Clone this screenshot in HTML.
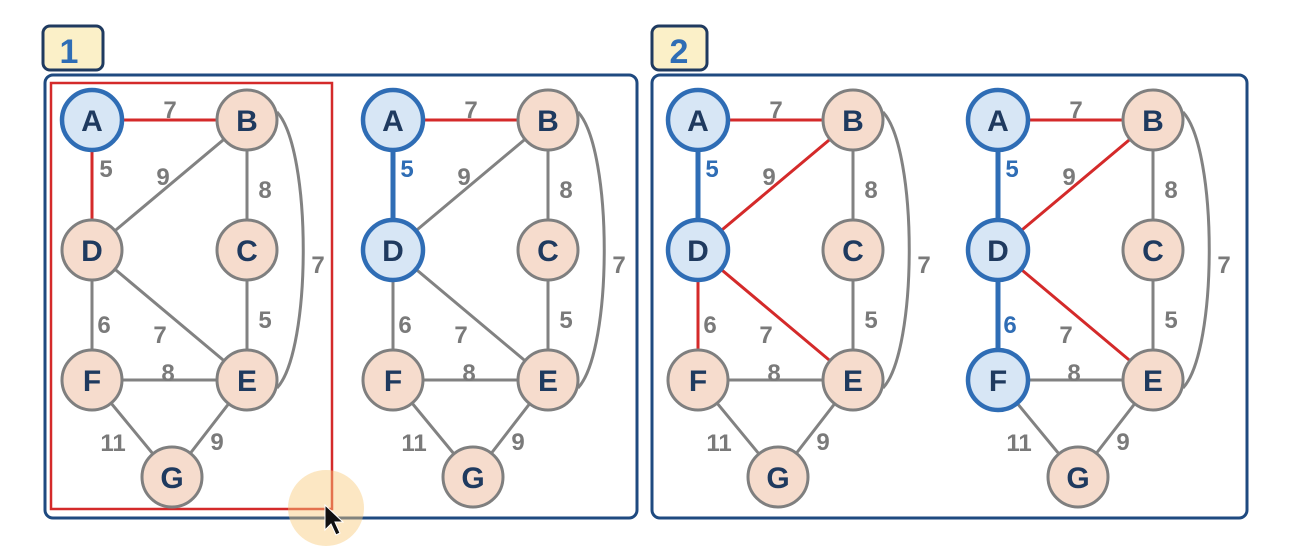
<!DOCTYPE html>
<html><head><meta charset="utf-8"><style>
html,body{margin:0;padding:0;background:#fff;}
svg{display:block;}
text{font-family:"Liberation Sans","DejaVu Sans",sans-serif;font-weight:bold;}
.n{fill:#f6dccd;stroke:#7f7f7f;stroke-width:3;}
.s{fill:#d7e6f5;stroke:#2f6db5;stroke-width:4.5;}
.l{fill:#1f3a5f;font-size:30px;text-anchor:middle;}
.w{fill:#7a7a7a;font-size:24px;text-anchor:middle;}
.wb{fill:#2f6db5;font-size:24px;text-anchor:middle;}
.g{stroke:#828282;stroke-width:3;fill:none;}
.r{stroke:#d42a2a;stroke-width:3;fill:none;}
.b{stroke:#2f6db5;stroke-width:5;fill:none;}
</style></head><body>
<svg width="1303" height="547" viewBox="0 0 1303 547">
<defs>
<g id="labelsCommon">
<text class="w" x="170" y="118">7</text>
<text class="w" x="163" y="185">9</text>
<text class="w" x="265" y="198">8</text>
<text class="w" x="318" y="273">7</text>
<text class="w" x="160" y="343">7</text>
<text class="w" x="265" y="328">5</text>
<text class="w" x="168" y="381">8</text>
<text class="w" x="113" y="451">11</text>
<text class="w" x="217" y="450">9</text>
</g>
</defs>
<rect x="45" y="75" width="592" height="443" rx="8" fill="none" stroke="#1f4a80" stroke-width="3"/>
<rect x="43" y="26" width="60" height="44" rx="7" fill="#fbf0c8" stroke="#1f3a5f" stroke-width="3"/>
<text x="69" y="63" style="fill:#2f6db5;font-size:34px;text-anchor:middle">1</text>
<rect x="652" y="75" width="595" height="443" rx="8" fill="none" stroke="#1f4a80" stroke-width="3"/>
<rect x="652" y="26" width="55" height="44" rx="7" fill="#fbf0c8" stroke="#1f3a5f" stroke-width="3"/>
<text x="679" y="63" style="fill:#2f6db5;font-size:34px;text-anchor:middle">2</text>
<rect x="51" y="83" width="281" height="426" fill="none" stroke="#d42a2a" stroke-width="2.5"/>

<g transform="translate(0,0)">
<path class="r" d="M92,120H247"/><path class="r" d="M92,120V250"/>
<path class="g" d="M92,250L247,120M247,120V250M277,112C312,150 312,350 277,388M92,250L247,380M92,250V380M247,250V380M92,380H247M92,380L172,477M247,380L172,477"/>
<use href="#labelsCommon"/>
<text class="w" x="106" y="177">5</text><text class="w" x="104" y="333">6</text>
<circle class="s" cx="92" cy="120" r="30"/><circle class="n" cx="247" cy="120" r="30"/>
<circle class="n" cx="92" cy="250" r="30"/><circle class="n" cx="247" cy="250" r="30"/>
<circle class="n" cx="92" cy="380" r="30"/><circle class="n" cx="247" cy="380" r="30"/>
<circle class="n" cx="172" cy="477" r="30"/>
<text class="l" x="92" y="131">A</text><text class="l" x="247" y="131">B</text><text class="l" x="92" y="261">D</text><text class="l" x="247" y="261">C</text><text class="l" x="92" y="391">F</text><text class="l" x="247" y="391">E</text><text class="l" x="172" y="488">G</text>
</g>

<g transform="translate(301,0)">
<path class="r" d="M92,120H247"/><path class="b" d="M92,120V250"/>
<path class="g" d="M92,250L247,120M247,120V250M277,112C312,150 312,350 277,388M92,250L247,380M92,250V380M247,250V380M92,380H247M92,380L172,477M247,380L172,477"/>
<use href="#labelsCommon"/>
<text class="wb" x="106" y="177">5</text><text class="w" x="104" y="333">6</text>
<circle class="s" cx="92" cy="120" r="30"/><circle class="n" cx="247" cy="120" r="30"/>
<circle class="s" cx="92" cy="250" r="30"/><circle class="n" cx="247" cy="250" r="30"/>
<circle class="n" cx="92" cy="380" r="30"/><circle class="n" cx="247" cy="380" r="30"/>
<circle class="n" cx="172" cy="477" r="30"/>
<text class="l" x="92" y="131">A</text><text class="l" x="247" y="131">B</text><text class="l" x="92" y="261">D</text><text class="l" x="247" y="261">C</text><text class="l" x="92" y="391">F</text><text class="l" x="247" y="391">E</text><text class="l" x="172" y="488">G</text>
</g>

<g transform="translate(606,0)">
<path class="g" d="M247,120V250M277,112C312,150 312,350 277,388M247,250V380M92,380H247M92,380L172,477M247,380L172,477"/>
<path class="r" d="M92,120H247M92,250L247,120M92,250L247,380M92,250V380"/>
<path class="b" d="M92,120V250"/>
<use href="#labelsCommon"/>
<text class="wb" x="106" y="177">5</text><text class="w" x="104" y="333">6</text>
<circle class="s" cx="92" cy="120" r="30"/><circle class="n" cx="247" cy="120" r="30"/>
<circle class="s" cx="92" cy="250" r="30"/><circle class="n" cx="247" cy="250" r="30"/>
<circle class="n" cx="92" cy="380" r="30"/><circle class="n" cx="247" cy="380" r="30"/>
<circle class="n" cx="172" cy="477" r="30"/>
<text class="l" x="92" y="131">A</text><text class="l" x="247" y="131">B</text><text class="l" x="92" y="261">D</text><text class="l" x="247" y="261">C</text><text class="l" x="92" y="391">F</text><text class="l" x="247" y="391">E</text><text class="l" x="172" y="488">G</text>
</g>

<g transform="translate(906,0)">
<path class="g" d="M247,120V250M277,112C312,150 312,350 277,388M247,250V380M92,380H247M92,380L172,477M247,380L172,477"/>
<path class="r" d="M92,120H247M92,250L247,120M92,250L247,380"/>
<path class="b" d="M92,120V250M92,250V380"/>
<use href="#labelsCommon"/>
<text class="wb" x="106" y="177">5</text><text class="wb" x="104" y="333">6</text>
<circle class="s" cx="92" cy="120" r="30"/><circle class="n" cx="247" cy="120" r="30"/>
<circle class="s" cx="92" cy="250" r="30"/><circle class="n" cx="247" cy="250" r="30"/>
<circle class="s" cx="92" cy="380" r="30"/><circle class="n" cx="247" cy="380" r="30"/>
<circle class="n" cx="172" cy="477" r="30"/>
<text class="l" x="92" y="131">A</text><text class="l" x="247" y="131">B</text><text class="l" x="92" y="261">D</text><text class="l" x="247" y="261">C</text><text class="l" x="92" y="391">F</text><text class="l" x="247" y="391">E</text><text class="l" x="172" y="488">G</text>
</g>

<circle cx="326" cy="508" r="38" fill="#f9c97a" opacity="0.45"/>
<path d="M325,505 L325,530 L331,524 L336,535 L340,533 L335,522 L343,522 Z" fill="#111" stroke="#fff" stroke-width="1"/>
</svg>
</body></html>
